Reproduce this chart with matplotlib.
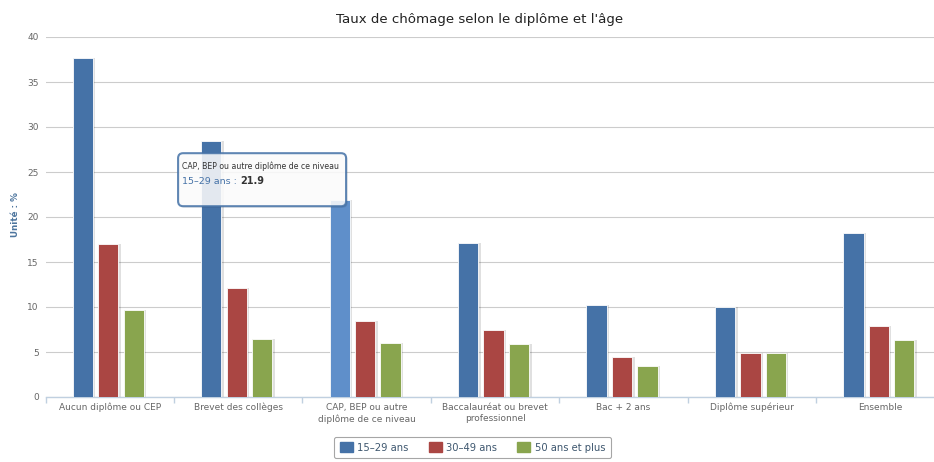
import numpy as np
import matplotlib
matplotlib.use("Agg")
import matplotlib.pyplot as plt
from matplotlib.patches import FancyBboxPatch, Patch
from matplotlib.transforms import IdentityTransform

plt.rcParams['font.family'] = ['DejaVu Sans']

# data
categories = ["Aucun diplôme ou CEP", "Brevet des collèges",
              "CAP, BEP ou autre\ndiplôme de ce niveau",
              "Baccalauréat ou brevet\nprofessionnel",
              "Bac + 2 ans", "Diplôme supérieur", "Ensemble"]
series_names = ["15\u201329 ans", "30\u201349 ans", "50 ans et plus"]
v_15_29 = [37.7, 28.5, 21.9, 17.1, 10.2, 10.0, 18.2]
v_30_49 = [17.0, 12.1, 8.4, 7.4, 4.4, 4.9, 7.9]
v_50 = [9.7, 6.4, 6.0, 5.9, 3.4, 4.9, 6.3]
yticks = [0, 5, 10, 15, 20, 25, 30, 35, 40]
hover_idx = 2  # bar under the mouse (tooltip)

colors = ['#4572A7', '#AA4643', '#89A54E']
hover_color = '#5f8fca'

W, H = 934, 462
fig = plt.figure(figsize=(W / 100, H / 100), dpi=100)
ax = fig.add_axes([45.6 / W, 1 - 397 / H, 899 / W, 360 / H])

x = np.arange(len(categories))
bw = 0.158
offsets = [-0.21, -0.012, 0.186]
px = 1 / 128.4  # one pixel in category units

for i, (vals, c) in enumerate(zip([v_15_29, v_30_49, v_50], colors)):
    xs = x + offsets[i]
    # soft shadow
    ax.bar(xs + 1.5 * px, vals, width=bw + 2 * px, color='#000000', alpha=0.12,
           linewidth=0, zorder=2)
    cols = [c] * len(vals)
    if i == 0:
        cols[hover_idx] = hover_color
    ax.bar(xs, vals, width=bw, color=cols, edgecolor='white', linewidth=0.6, zorder=3)

ax.set_xlim(-0.5, len(categories) - 0.5)
ax.set_ylim(0, 40)
ax.set_yticks(yticks)
ax.grid(axis='y', color='#CCCCCC', linewidth=0.8, zorder=0)
ax.set_axisbelow(True)
for s in ['top', 'right', 'left']:
    ax.spines[s].set_visible(False)
ax.spines['bottom'].set_color('#C0D0E0')
ax.spines['bottom'].set_linewidth(1)
ax.tick_params(axis='y', length=0, pad=5, labelsize=6.5, labelcolor='#666666')
ax.set_xticks(x)
ax.set_xticklabels(categories, fontsize=6.5, color='#666666', linespacing=1.35)
ax.tick_params(axis='x', which='major', length=0, pad=4)
ax.set_xticks(np.arange(len(categories) + 1) - 0.5, minor=True)
ax.tick_params(axis='x', which='minor', length=4, color='#C0D0E0', width=1)

fig.text(480 / W, 1 - 20 / H, "Taux de chômage selon le diplôme et l'âge",
         ha='center', va='center', fontsize=9.6, color='#222222')
fig.text(15 / W, 1 - 215 / H, "Unité : %", rotation=90, ha='center', va='center',
         fontsize=6.3, color='#4d759e', fontweight='bold')

# legend
handles = [Patch(facecolor=c, edgecolor=c) for c in colors]
leg = fig.legend(handles, series_names, loc='center', ncol=3,
                 bbox_to_anchor=(472.5 / W, 1 - 447.5 / H), frameon=True,
                 fancybox=True, fontsize=7.2, handlelength=1.3, handleheight=1.1,
                 handletextpad=0.45, columnspacing=2.0, borderpad=0.55,
                 edgecolor='#909090', labelcolor='#3E576F')
leg.get_frame().set_linewidth(0.8)

# tooltip anchored on the hovered bar
fig.canvas.draw()
bx, by = ax.transData.transform((x[hover_idx] + offsets[0], v_15_29[hover_idx]))
left, right = bx - 161.6, bx + 6.4
top, bottom = by + 46.7, by - 6.3
tid = IdentityTransform()
shadow = FancyBboxPatch((left + 1.5, bottom - 1.5), right - left, top - bottom,
                        boxstyle="round,pad=0,rounding_size=5", transform=tid,
                        facecolor='#000000', alpha=0.1, edgecolor='none', zorder=9)
box = FancyBboxPatch((left, bottom), right - left, top - bottom,
                     boxstyle="round,pad=0,rounding_size=5", transform=tid,
                     facecolor='white', alpha=0.86, edgecolor='#4572A7',
                     linewidth=1.5, zorder=10)
fig.patches.extend([shadow, box])
fig.text((left + 4) / W, (top - 13) / H, "CAP, BEP ou autre diplôme de ce niveau",
         ha='left', va='center', fontsize=5.6, color='#333333', zorder=11)
fig.text((left + 4) / W, (top - 28) / H, series_names[0] + " :",
         ha='left', va='center', fontsize=6.8, color='#4572A7', zorder=11)
fig.text((left + 62) / W, (top - 28) / H, f"{v_15_29[hover_idx]}",
         ha='left', va='center', fontsize=7.0, color='#333333', fontweight='bold', zorder=11)

fig.savefig("out.png", dpi=100)
